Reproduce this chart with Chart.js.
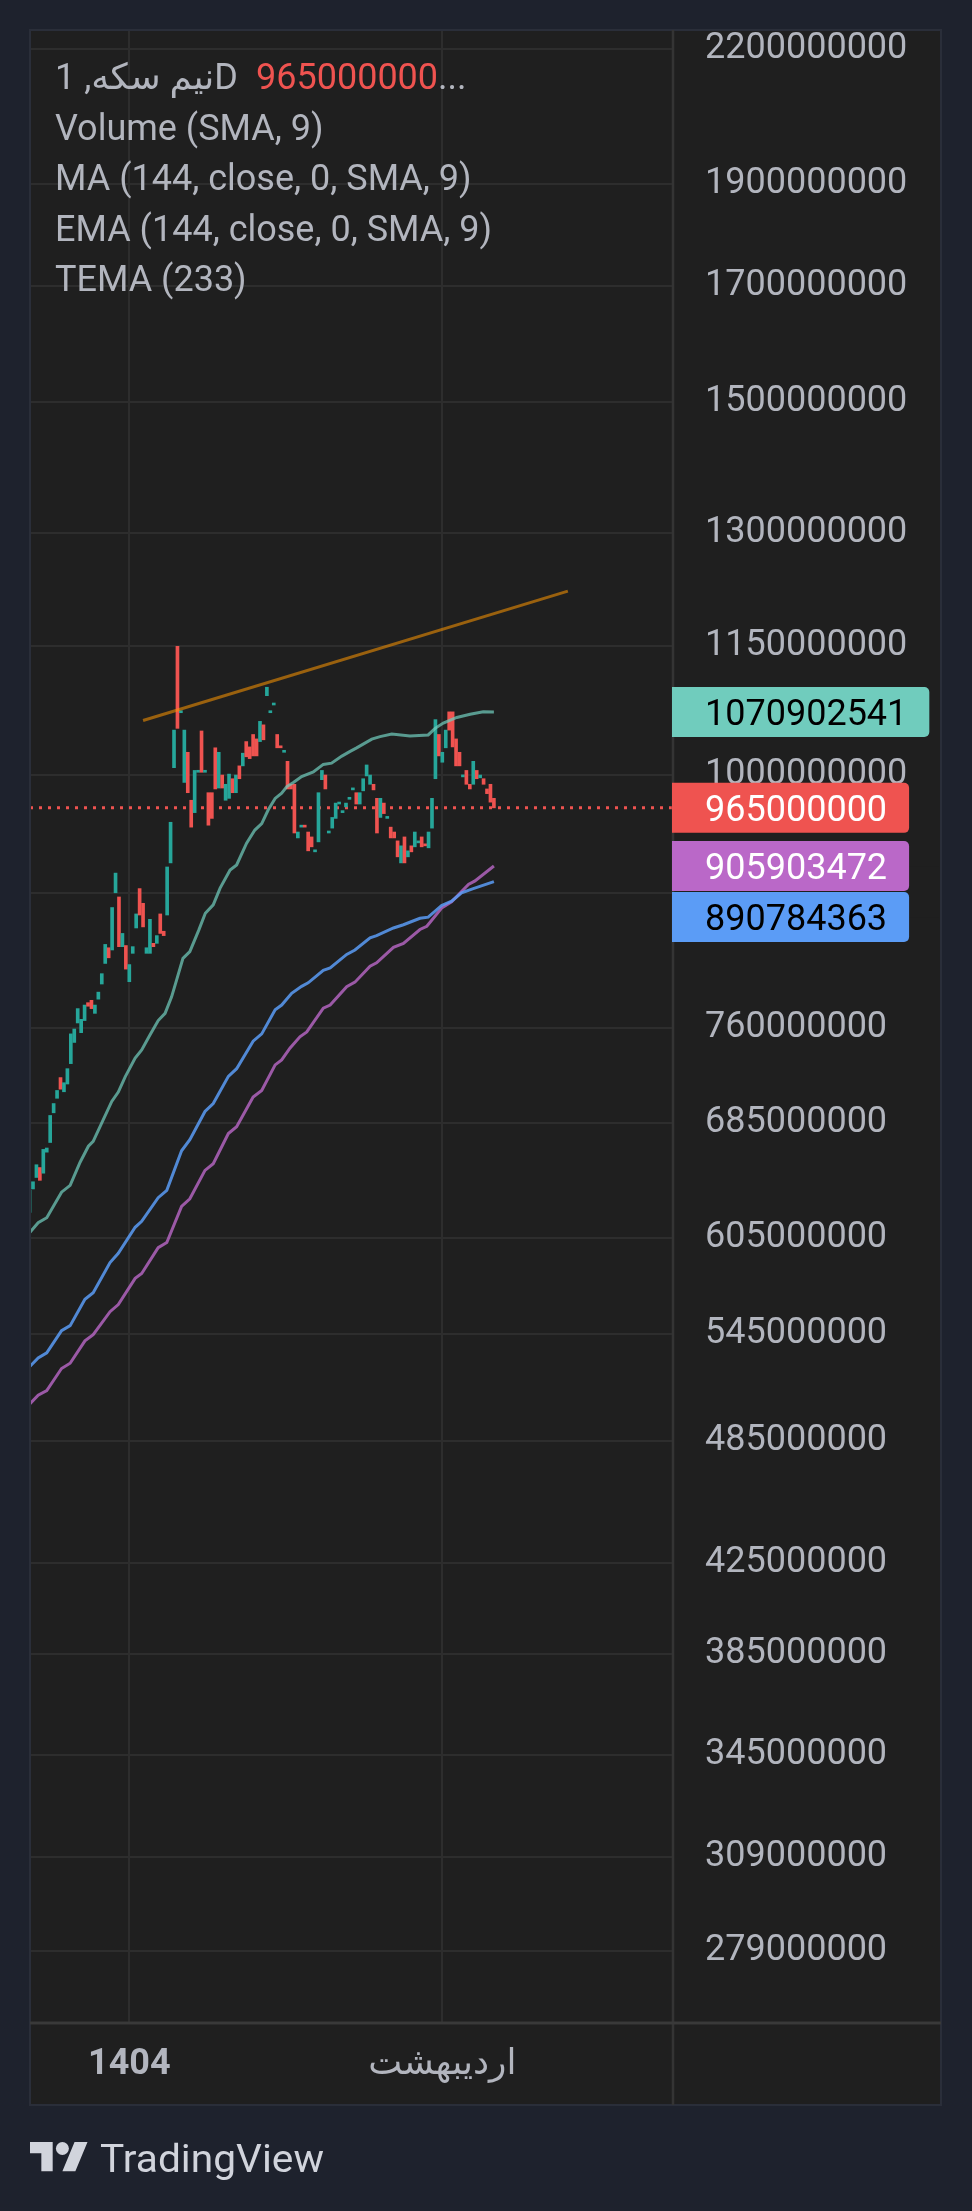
<!DOCTYPE html>
<html><head><meta charset="utf-8">
<script src="https://cdn.jsdelivr.net/npm/chart.js@4.4.1/dist/chart.umd.min.js"></script>
<style>html,body{margin:0;padding:0;background:#1e222d;}canvas{display:block;}</style>
</head><body>
<canvas id="c" width="972" height="2211"></canvas>
<script>
// ---- data (prices in millions) ----
const UNIT = 1e6;
const OPENS = [622,638,646,653,649,664,671,693,704,720,709,715,731,748,764,756,766,781,783,772,
784,797,815,829,827,880,876,830,831,799,824,847,884,870,824,824,833,833,860,844,
859,909,1008,1150,1070,992,1025,973,960,1003,1049,1003,981,981,1030,986,1000,973,975,996,
981,1010,1010,1037,1031,1045,1040,1037,1056,1090,1070,1079,1045,1031,1025,1015,990,990,934,945,
946,940,935,920,930,995,1000,939,944,954,969,960,966,974,984,981,969,983,999,990,
990,975,955,970,954,945,940,931,909,935,915,926,925,929,935,927,924,944,996,1045,
1014,1030,1071,1071,1040,1025,998,1005,990,990,1005,997,996,985,990,975];
const CLOSES = [637,643,655,644,666,667,691,700,710,711,716,727,755,759,776,767,779,778,776,779,
790,806,832,820,866,899,830,842,810,814,830,860,859,848,829,855,830,840,842,840,
905,950,1050,1052,1072,1050,981,945,1005,1005,1003,1005,947,954,985,1025,986,990,1001,981,
1000,996,1024,1020,1018,1021,1021,1060,1039,1100,1072,1081,1030,1030,1026,985,985,939,940,946,
945,921,925,921,981,1005,985,940,955,970,970,961,970,976,986,969,981,996,1011,1000,
984,939,975,959,956,934,934,915,926,909,921,920,940,931,925,926,940,975,1062,1021,
1025,1050,1050,1031,1010,1010,1000,990,985,1015,996,1000,990,980,971,965];

const TEMA_X = [0,2.5,5,9.3,11.8,14.7,17.1,18.5,21,23.9,25.8,27.8,30.7,32.6,35,37.4,39.4,41.3,42.7,44.6,
46.6,49.2,51.1,53.4,55.4,58.3,60.2,63.1,65.5,67.5,69.4,71.4,73.3,74.8,76.7,79.1,82.5,85.4,87.8,90.8,
93.2,95.1,99.5,101.9,105.3,110.6,115.9,117.9,120.3,124.2,128.1,131.9,135];
const TEMA_V = [608.4,615,618.4,635.8,640.5,656.8,668.3,671.8,685.4,701.6,708.8,720.6,735.4,742,754,766,772,786,800,819.5,
825.5,845,860.7,868.5,884.5,902,907,928.7,942,948.7,963,974.9,980.4,987.6,992,998.3,1003.3,1011.6,1013,1020.8,
1026,1029.9,1039.8,1042.6,1045.6,1043.4,1044.5,1052,1058,1064.5,1068.3,1071.1,1070.902541];

const EMA_X = [0,2.5,5,9.3,11.8,16.1,18.5,23.4,25.8,30.7,32.6,37.4,39.9,44.2,46.6,51,53.4,57.8,60.2,65,
67.5,71.4,73.3,76.2,79.1,81,85.4,87.4,92.2,94.6,99,100.9,105.8,108.7,113.5,115.9,119.8,122.7,125.6,129,135];
const EMA_V = [526,531,534,547,550,566,570,589,595,612,616,632,637,665,673,694,700,721,727,749,
755,775,779,789,795,798,809,811,823,827,838,840,847,850,856,857,868,872,880,884,890.784363];

const MA_X = [0,2.5,5,9.3,11.8,16.1,18.5,23.4,25.8,30.7,32.6,37.4,39.9,44.2,46.6,51,53.4,57.8,60.2,65,
67.5,71.4,73.3,75.7,78.6,80.6,85.4,87.4,92.2,94.6,99,100.9,105.8,108.7,113.5,115.5,119.8,122.7,127.6,129.5,135];
const MA_V = [505,510,512.5,525,528,541,544.7,558.4,562.7,579,582,598.6,602,626,631.2,651,655.7,677.6,682.6,705,
710,730,734,743.4,752.6,756.6,776.3,779,794.6,798.6,812.6,815.6,829.4,833,845.6,848.6,865.5,871.5,888,891.4,905.903472];

const TREND_X = [33, 156.5];
const TREND_V = [1061, 1221];

const Y_TICKS = [2200,1900,1700,1500,1300,1150,1000,880,760,685,605,545,485,425,385,345,309,279];
const Y_MIN = 257.95, Y_MAX = 2245.5;
const X_TICKS = [29, 120];
const X_TICK_LABELS = ['1404', 'اردیبهشت'];
const X_MIN = 0.13, X_MAX = 187.07;

const TITLE = 'نیم سکه, 1D';
const LEGEND = ['Volume (SMA, 9)', 'MA (144, close, 0, SMA, 9)', 'EMA (144, close, 0, SMA, 9)', 'TEMA (233)'];

// ---- styles ----
const FONT = "Roboto, 'Noto Sans', 'DejaVu Sans', sans-serif";
const UP = '#26a69a', DOWN = '#ef5350';
const TEXT = '#b2b5be', GRID = '#2d2d2d';
const C_TEMA = 'rgba(112,204,189,0.72)', C_EMA = 'rgba(91,156,246,0.85)', C_MA = 'rgba(186,104,200,0.8)';

const pts = (xs, vs) => xs.map((x, i) => ({x: x, y: vs[i] * UNIT}));
const candleData = OPENS.map((o, i) => ({x: i, y: [o * UNIT, CLOSES[i] * UNIT]}));
const candleColors = OPENS.map((o, i) => CLOSES[i] >= o ? UP : DOWN);

const framePlugin = {
  id: 'frame',
  beforeDraw(chart) {
    const c = chart.ctx;
    c.save();
    c.fillStyle = '#1e222d'; c.fillRect(0, 0, chart.width, chart.height);
    c.fillStyle = '#1f1f1f'; c.fillRect(30, 30, 911, 2075);
    c.restore();
  },
  beforeDatasetsDraw(chart) {
    const c = chart.ctx, a = chart.chartArea;
    const y = chart.scales.y.getPixelForValue(CLOSES[CLOSES.length - 1] * UNIT);
    c.save();
    c.strokeStyle = DOWN; c.lineWidth = 3; c.setLineDash([3, 6]);
    c.beginPath(); c.moveTo(a.left, y); c.lineTo(a.right, y); c.stroke();
    c.restore();
  },
  afterDraw(chart) {
    const c = chart.ctx, ys = chart.scales.y;
    c.save();
    c.strokeStyle = '#2a2e39'; c.lineWidth = 2;
    c.strokeRect(30, 30, 911, 2075);
    c.strokeStyle = '#343434'; c.lineWidth = 2.5;
    c.beginPath(); c.moveTo(673, 30); c.lineTo(673, 2105); c.stroke();
    c.strokeStyle = '#393939'; c.lineWidth = 3;
    c.beginPath(); c.moveTo(30, 2023); c.lineTo(941, 2023); c.stroke();

    c.font = '36px ' + FONT; c.textBaseline = 'alphabetic'; c.textAlign = 'left';
    c.fillStyle = TEXT;
    c.fillText(TITLE, 55, 89);
    const tw = c.measureText(TITLE).width;
    const last = String(Math.round(CLOSES[CLOSES.length - 1] * UNIT));
    c.fillStyle = DOWN;
    c.fillText(last, 55 + tw + 18, 89);
    const lw = c.measureText(last).width;
    c.fillStyle = TEXT;
    c.fillText('...', 55 + tw + 18 + lw, 89);
    LEGEND.forEach((t, i) => c.fillText(t, 55, 139.5 + i * 50.6));

    const items = [
      {v: TEMA_V[TEMA_V.length - 1], bg: '#70ccbd', fg: '#000000'},
      {v: CLOSES[CLOSES.length - 1], bg: '#ef5350', fg: '#ffffff'},
      {v: MA_V[MA_V.length - 1], bg: '#ba68c8', fg: '#ffffff'},
      {v: EMA_V[EMA_V.length - 1], bg: '#5b9cf6', fg: '#000000'}
    ].map(o => Object.assign(o, {y: ys.getPixelForValue(o.v * UNIT)})).sort((a, b) => a.y - b.y);
    let prev = -1e9;
    items.forEach(o => { o.cy = Math.max(o.y, prev + 51); prev = o.cy; });
    // background strip so axis labels hidden behind stacked boxes stay hidden
    for (let i = 1; i < items.length; i++) {
      if (items[i].cy - items[i - 1].cy <= 52) {
        c.fillStyle = '#1f1f1f';
        c.fillRect(675, items[i - 1].cy, 264, items[i].cy - items[i - 1].cy);
      }
    }
    items.forEach(o => {
      const txt = String(Math.round(o.v * UNIT));
      const w = 33 + c.measureText(txt).width + 22;
      c.fillStyle = o.bg;
      c.beginPath();
      c.roundRect(672, o.cy - 25, w, 50, [0, 5, 5, 0]);
      c.fill();
      c.fillStyle = o.fg;
      c.fillText(txt, 705, o.cy + 12.8);
    });

    c.fillStyle = '#d1d4dc';
    c.save();
    c.translate(30, 2135.5); c.scale(1.62, 1.62);
    c.beginPath();
    c.moveTo(14, 22); c.lineTo(7, 22); c.lineTo(7, 11); c.lineTo(0, 11); c.lineTo(0, 4); c.lineTo(14, 4); c.closePath();
    c.moveTo(28, 22); c.lineTo(20, 22); c.lineTo(27.5, 4); c.lineTo(35.5, 4); c.closePath();
    c.fill();
    c.beginPath(); c.arc(20, 8, 4, 0, Math.PI * 2); c.fill();
    c.restore();
    c.font = '38px ' + FONT;
    const lt = 'TradingView';
    const ltw = c.measureText(lt).width;
    c.save();
    c.translate(100, 2172); c.scale(224 / ltw, 1);
    c.fillText(lt, 0, 0);
    c.restore();
    c.restore();
  }
};

new Chart(document.getElementById('c'), {
  type: 'bar',
  data: {
    datasets: [
      {type: 'line', data: pts(TREND_X, TREND_V), borderColor: 'rgba(255,152,0,0.55)', borderWidth: 3, pointRadius: 0, order: 0},
      {type: 'line', data: pts(TEMA_X, TEMA_V), borderColor: C_TEMA, borderWidth: 3, pointRadius: 0, order: 0},
      {type: 'line', data: pts(EMA_X, EMA_V), borderColor: C_EMA, borderWidth: 3, pointRadius: 0, order: 0},
      {type: 'line', data: pts(MA_X, MA_V), borderColor: C_MA, borderWidth: 3, pointRadius: 0, order: 0},
      {type: 'bar', data: candleData, backgroundColor: candleColors, barThickness: 3, minBarLength: 2, order: 1}
    ]
  },
  options: {
    responsive: false, animation: false, devicePixelRatio: 1,
    layout: {autoPadding: false, padding: {left: 30, top: 30, right: 31, bottom: 106}},
    plugins: {legend: {display: false}, tooltip: {enabled: false}},
    scales: {
      x: {
        type: 'linear', position: 'bottom', min: X_MIN, max: X_MAX, offset: false,
        afterBuildTicks: s => { s.ticks = X_TICKS.map(v => ({value: v})); },
        afterFit: s => { s.height = 82; s.paddingLeft = 0; s.paddingRight = 0; },
        grid: {color: GRID, lineWidth: 2, drawTicks: false, offset: false},
        border: {display: false},
        ticks: {
          autoSkip: false, maxRotation: 0, padding: 20, color: TEXT,
          font: ctx => ({family: FONT, size: 36, weight: ctx.index === 0 ? 'bold' : 'normal'}),
          callback: (v, i) => X_TICK_LABELS[i]
        }
      },
      y: {
        type: 'logarithmic', position: 'right', min: Y_MIN * UNIT, max: Y_MAX * UNIT,
        afterBuildTicks: s => { s.ticks = Y_TICKS.map(v => ({value: v * UNIT})); },
        afterFit: s => { s.width = 268; s.paddingTop = 0; s.paddingBottom = 0; },
        grid: {color: GRID, lineWidth: 2, drawTicks: false},
        border: {display: false},
        ticks: {autoSkip: false, padding: 32, color: TEXT, font: {family: FONT, size: 36},
          callback: v => String(Math.round(v))}
      }
    }
  },
  plugins: [framePlugin]
});
</script>
</body></html>
